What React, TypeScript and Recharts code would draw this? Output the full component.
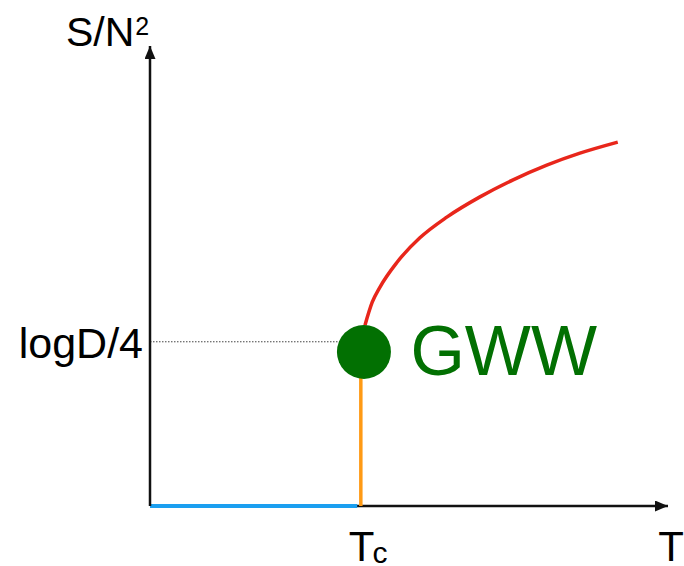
import React from 'react';
import { ComposedChart, Line, Scatter, XAxis, YAxis, LabelList } from 'recharts';

const FONT = '"Liberation Sans", Arial, Helvetica, sans-serif';

// Values (arbitrary T and S/N^2 units)
const T_C = 4.07;
const LOG_D_4 = 3.57;
const T_MAX = 10;

const axisT = [0, T_MAX];
const axisS = [0, 0];
const blueT = [0, 4.0];
const blueS = [0, 0];
const orangeT = [T_C, T_C];
const orangeS = [0, 3.35];
const dottedT = [0, T_C];
const dottedS = [LOG_D_4, LOG_D_4];
const redT = [4.15, 4.29, 4.44, 4.77, 5.21, 5.73, 6.37, 7.01, 7.66, 8.3, 9.03];
const redS = [3.93, 4.43, 4.76, 5.3, 5.83, 6.28, 6.72, 7.09, 7.41, 7.67, 7.91];
const gwwT = [4.13];
const gwwS = [3.35];

const xTicks = [T_C, T_MAX];
const xTickLabels = ['T', 'T'];
const xTickSubs = ['c', ''];
const yTicks = [LOG_D_4];
const yTickLabels = ['logD/4'];
const yTitle = 'S/N';
const yTitleSup = '2';
const gwwLabel = 'GWW';

const zip = (ts: number[], ss: number[]) => ts.map((t, i) => ({ t, s: ss[i] }));

const axisData = zip(axisT, axisS);
const blueData = zip(blueT, blueS);
const orangeData = zip(orangeT, orangeS);
const dottedData = zip(dottedT, dottedS);
const redData = zip(redT, redS);
const gwwData = zip(gwwT, gwwS);

const XTick = (props: any) => {
  const { x, y, payload } = props;
  const idx = xTicks.indexOf(payload.value);
  const main = xTickLabels[idx] ?? '';
  const sub = xTickSubs[idx] ?? '';
  if (sub) {
    return (
      <text x={x - 12} y={y + 47} fontFamily={FONT} fontSize={42} fill="#000">
        <tspan>{main}</tspan>
        <tspan fontSize={30} dx={-2} dy={2}>{sub}</tspan>
      </text>
    );
  }
  return (
    <text x={x + 3} y={y + 47} fontFamily={FONT} fontSize={42} fill="#000" textAnchor="middle">
      {main}
    </text>
  );
};

const YTick = (props: any) => {
  const { x, y, payload } = props;
  const idx = yTicks.indexOf(payload.value);
  return (
    <text x={x + 1} y={y + 16} fontFamily={FONT} fontSize={43} fill="#000" textAnchor="end">
      {yTickLabels[idx]}
    </text>
  );
};

const YTitle = (props: any) => {
  const vb = props.viewBox || { x: 0, y: 0, width: 0, height: 0 };
  return (
    <text x={vb.x + 56} y={vb.y} fontFamily={FONT} fontSize={41} fill="#000">
      <tspan>{yTitle}</tspan>
      <tspan fontSize={25} dx={1} dy={-11}>{yTitleSup}</tspan>
    </text>
  );
};

const GwwShape = (props: any) => {
  const { cx, cy } = props;
  return <circle cx={cx} cy={cy} r={27} fill="#027002" />;
};

const GwwLabel = (props: any) => {
  const { x, y } = props;
  return (
    <text x={x + 51} y={y + 28} fontFamily={FONT} fontSize={70} fill="#027002">
      {gwwLabel}
    </text>
  );
};

export default function App() {
  return (
    <div style={{ position: 'absolute', left: 0, top: 0, background: '#fff' }}>
      <ComposedChart width={684} height={566} margin={{ top: 46, right: 16, bottom: 10, left: 10 }}>
        <defs>
          <marker
            id="arrowHead"
            viewBox="0 0 13 11"
            refX={13}
            refY={5.5}
            markerWidth={13}
            markerHeight={11}
            markerUnits="userSpaceOnUse"
            orient="auto-start-reverse"
          >
            <path d="M0,0 L13,5.5 L0,11 Z" fill="#111" />
          </marker>
        </defs>
        <XAxis
          type="number"
          dataKey="t"
          domain={[0, T_MAX]}
          ticks={xTicks}
          tickLine={false}
          height={50}
          axisLine={false}
          tick={<XTick />}
          interval={0}
        />
        <YAxis
          type="number"
          dataKey="s"
          domain={[0, 10]}
          ticks={yTicks}
          tickLine={false}
          width={140}
          axisLine={{ stroke: '#111', strokeWidth: 2.5, markerStart: 'url(#arrowHead)' }}
          tick={<YTick />}
          interval={0}
          label={{ content: <YTitle /> }}
        />
        <Line data={axisData} dataKey="s" type="linear" stroke="#111" strokeWidth={2.5} markerEnd="url(#arrowHead)" dot={false} activeDot={false} isAnimationActive={false} />
        <Line data={dottedData} dataKey="s" type="linear" stroke="#444" strokeWidth={1} strokeDasharray="1.5 1.5" dot={false} activeDot={false} isAnimationActive={false} />
        <Line data={blueData} dataKey="s" type="linear" stroke="#1b9ff0" strokeWidth={4} dot={false} activeDot={false} isAnimationActive={false} />
        <Line data={orangeData} dataKey="s" type="linear" stroke="#ff9a14" strokeWidth={3.5} dot={false} activeDot={false} isAnimationActive={false} />
        <Line data={redData} dataKey="s" type="monotone" stroke="#e8261b" strokeWidth={3.5} dot={false} activeDot={false} isAnimationActive={false} />
        <Scatter data={gwwData} dataKey="s" shape={<GwwShape />} isAnimationActive={false}>
          <LabelList dataKey="s" content={<GwwLabel />} />
        </Scatter>
      </ComposedChart>
    </div>
  );
}
